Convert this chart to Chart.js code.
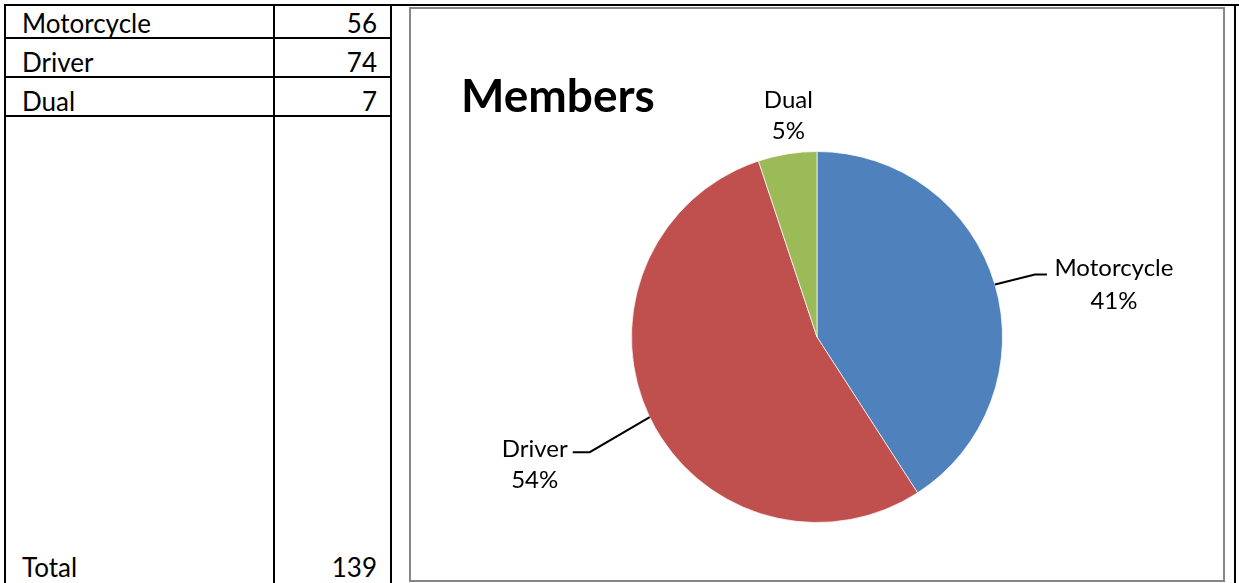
<!DOCTYPE html>
<html>
<head>
<meta charset="utf-8">
<script src="https://cdn.jsdelivr.net/npm/chart.js@4.4.1/dist/chart.umd.min.js"></script>
<style>
    body { margin: 0; background: #fff; width: 1239px; height: 583px; overflow: hidden; position: relative; font-family: Lato, "DejaVu Sans", sans-serif; }
    .hl { position: absolute; height: 2px; background: #000; }
    .vl { position: absolute; width: 2px; background: #000; }
    .cell { position: absolute; font-size: 26px; color: #000; line-height: 1; }
    .num { text-align: right; }
    #frame { position: absolute; left: 409px; top: 7px; width: 816px; height: 575px; border: 2px solid #868686; box-sizing: border-box; }
    #frame canvas { position: absolute; left: 0; top: 0; }
</style>
</head>
<body>
<div id="grid"></div>
<div id="frame"><canvas id="pieChart" width="812" height="571"></canvas></div>

<script>
const categories = ['Motorcycle', 'Driver', 'Dual'];
const members = [56, 74, 7];
const totalShown = 139;
const sliceColors = ['#4F81BD', '#C0504D', '#9BBB59'];

// table on the left, drawn with plain divs
const grid = document.getElementById('grid');
function addEl(cls, css, text) {
    const d = document.createElement('div');
    d.className = cls;
    Object.assign(d.style, css);
    if (text !== undefined) d.textContent = text;
    grid.appendChild(d);
}

// borders
addEl('hl', { left: '4px', top: '4px', width: '1235px' });
[37, 76, 115].forEach(y => addEl('hl', { left: '4px', top: y + 'px', width: '388px' }));
[4, 273, 390, 1234].forEach(x => addEl('vl', { left: x + 'px', top: '4px', height: '579px' }));

const rowTops = [10, 49, 88];
categories.forEach((name, i) => {
    addEl('cell', { left: '22px', top: rowTops[i] + 'px' }, name);
    addEl('cell num', { left: '280px', width: '97px', top: rowTops[i] + 'px' }, members[i]);
});
addEl('cell', { left: '22px', top: '554px' }, 'Total');
addEl('cell num', { left: '280px', width: '97px', top: '554px' }, totalShown);

// labels with leader lines, offsets are relative to the slice edge at its middle angle
const labelPlugin = {
    id: 'sliceLabels',
    afterDatasetsDraw(chart, args, opts) {
        const ctx = chart.ctx;
        const meta = chart.getDatasetMeta(0);
        const data = chart.data.datasets[0].data;
        const sum = data.reduce((a, b) => a + b, 0);

        ctx.save();
        ctx.fillStyle = '#000';
        ctx.font = 'bold 46px Lato, sans-serif';
        ctx.textAlign = 'left';
        ctx.textBaseline = 'alphabetic';
        ctx.fillText(opts.title, 50, 103);

        meta.data.forEach((arc, i) => {
            const p = arc.getProps(['x', 'y', 'startAngle', 'endAngle', 'outerRadius'], true);
            const mid = (p.startAngle + p.endAngle) / 2;
            const ex = p.x + Math.cos(mid) * p.outerRadius;
            const ey = p.y + Math.sin(mid) * p.outerRadius;
            const cfg = opts.items[i];

            if (cfg.leader) {
                ctx.beginPath();
                ctx.strokeStyle = '#000';
                ctx.lineWidth = 2;
                ctx.moveTo(ex, ey);
                cfg.leader.forEach(pt => ctx.lineTo(ex + pt[0], ey + pt[1]));
                ctx.stroke();
            }

            ctx.font = '24px Lato, sans-serif';
            ctx.textAlign = 'center';
            ctx.textBaseline = 'middle';
            ctx.fillStyle = '#000';
            const pct = Math.round(data[i] / sum * 100) + '%';
            ctx.fillText(chart.data.labels[i], ex + cfg.text[0], ey + cfg.text[1]);
            ctx.fillText(pct, ex + cfg.text[0], ey + cfg.text[2]);
        });
        ctx.restore();
    }
};

new Chart(document.getElementById('pieChart'), {
    type: 'pie',
    data: {
        labels: categories,
        datasets: [{
            data: members,
            backgroundColor: sliceColors,
            borderColor: 'rgba(255,255,255,0.7)',
            borderWidth: 1
        }]
    },
    options: {
        responsive: false,
        animation: false,
        layout: {
            padding: { top: 142, bottom: 57, left: 200, right: 200 }
        },
        plugins: {
            legend: { display: false },
            tooltip: { enabled: false },
            sliceLabels: {
                title: 'Members',
                items: [
                    { leader: [[40, -10], [52, -10]], text: [119, -16, 17] },
                    { leader: [[-60, 35], [-77, 35]], text: [-115, 32, 63] },
                    { leader: null, text: [1, -54, -23] }
                ]
            }
        }
    },
    plugins: [labelPlugin]
});
</script>
</body>
</html>
